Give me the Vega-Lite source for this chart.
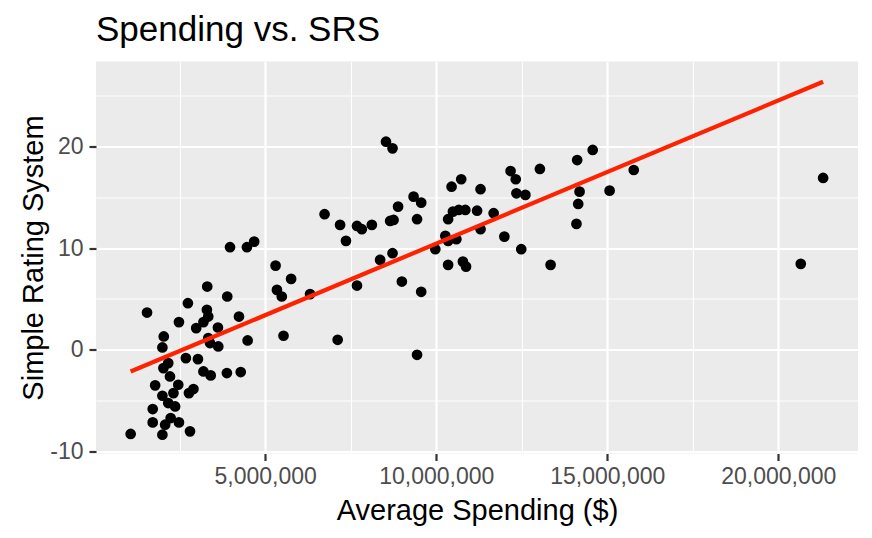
{
  "$schema": "https://vega.github.io/schema/vega-lite/v6.json",
  "width": 762,
  "height": 392,
  "autosize": {"type": "none"},
  "padding": {"left": 96, "top": 61.5, "right": 14, "bottom": 84.5},
  "background": "white",
  "title": {
    "text": "Spending vs. SRS",
    "anchor": "start",
    "frame": "group",
    "font": "Liberation Sans",
    "fontSize": 35,
    "fontWeight": "normal",
    "color": "#000000",
    "offset": 14
  },
  "config": {
    "view": {"fill": "#EBEBEB", "stroke": null},
    "axis": {
      "domain": false,
      "gridColor": "#FFFFFF",
      "tickColor": "#333333",
      "tickWidth": 2.2,
      "tickSize": 7,
      "labelFont": "Liberation Sans",
      "labelFontSize": 23,
      "labelColor": "#4D4D4D",
      "titleFont": "Liberation Sans",
      "titleFontSize": 29,
      "titleFontWeight": "normal",
      "titleColor": "#000000"
    }
  },
  "data": {
    "values": [
      {"spending": 1066000, "srs": -8.28},
      {"spending": 1545000, "srs": 3.66},
      {"spending": 1711000, "srs": -5.83},
      {"spending": 1711000, "srs": -7.14},
      {"spending": 1782000, "srs": -3.5},
      {"spending": 1994000, "srs": -8.35},
      {"spending": 1994000, "srs": -4.52},
      {"spending": 1994000, "srs": 0.23},
      {"spending": 2034000, "srs": 1.31},
      {"spending": 2024000, "srs": -1.8},
      {"spending": 2165000, "srs": -1.31},
      {"spending": 2216000, "srs": -2.62},
      {"spending": 2074000, "srs": -7.37},
      {"spending": 2236000, "srs": -6.71},
      {"spending": 2165000, "srs": -5.24},
      {"spending": 2367000, "srs": -5.57},
      {"spending": 2317000, "srs": -4.26},
      {"spending": 2458000, "srs": -3.44},
      {"spending": 2478000, "srs": -7.14},
      {"spending": 2478000, "srs": 2.72},
      {"spending": 2680000, "srs": -0.82},
      {"spending": 2740000, "srs": 4.58},
      {"spending": 2801000, "srs": -8.02},
      {"spending": 2771000, "srs": -4.26},
      {"spending": 2902000, "srs": -3.86},
      {"spending": 2982000, "srs": 2.13},
      {"spending": 3033000, "srs": -0.92},
      {"spending": 3194000, "srs": -2.13},
      {"spending": 3194000, "srs": 2.72},
      {"spending": 3295000, "srs": 3.93},
      {"spending": 3305000, "srs": 6.22},
      {"spending": 3335000, "srs": 3.27},
      {"spending": 3335000, "srs": 1.15},
      {"spending": 3406000, "srs": -2.52},
      {"spending": 3618000, "srs": 2.19},
      {"spending": 3628000, "srs": 0.33},
      {"spending": 3386000, "srs": 0.66},
      {"spending": 3880000, "srs": -2.29},
      {"spending": 3890000, "srs": 5.24},
      {"spending": 3971000, "srs": 10.09},
      {"spending": 4233000, "srs": 3.27},
      {"spending": 4284000, "srs": -2.19},
      {"spending": 4486000, "srs": 0.92},
      {"spending": 4465000, "srs": 10.09},
      {"spending": 4677000, "srs": 10.64},
      {"spending": 5303000, "srs": 8.28},
      {"spending": 5343000, "srs": 5.89},
      {"spending": 5484000, "srs": 5.24},
      {"spending": 5535000, "srs": 1.38},
      {"spending": 5757000, "srs": 6.97},
      {"spending": 6311000, "srs": 5.47},
      {"spending": 6735000, "srs": 13.33},
      {"spending": 7118000, "srs": 0.98},
      {"spending": 7189000, "srs": 12.28},
      {"spending": 7361000, "srs": 10.71},
      {"spending": 7683000, "srs": 12.18},
      {"spending": 7825000, "srs": 11.86},
      {"spending": 7683000, "srs": 6.32},
      {"spending": 8117000, "srs": 12.28},
      {"spending": 8359000, "srs": 8.84},
      {"spending": 8531000, "srs": 20.46},
      {"spending": 8722000, "srs": 19.81},
      {"spending": 8652000, "srs": 12.67},
      {"spending": 8753000, "srs": 12.77},
      {"spending": 8722000, "srs": 9.5},
      {"spending": 8884000, "srs": 14.08},
      {"spending": 8995000, "srs": 6.71},
      {"spending": 9338000, "srs": 15.06},
      {"spending": 9439000, "srs": -0.49},
      {"spending": 9439000, "srs": 12.84},
      {"spending": 9560000, "srs": 5.7},
      {"spending": 9560000, "srs": 14.47},
      {"spending": 9973000, "srs": 9.89},
      {"spending": 10266000, "srs": 11.2},
      {"spending": 10347000, "srs": 10.71},
      {"spending": 10589000, "srs": 10.87},
      {"spending": 10347000, "srs": 8.35},
      {"spending": 10780000, "srs": 8.67},
      {"spending": 10871000, "srs": 8.18},
      {"spending": 10347000, "srs": 12.84},
      {"spending": 10488000, "srs": 13.59},
      {"spending": 10659000, "srs": 13.75},
      {"spending": 10851000, "srs": 13.75},
      {"spending": 11194000, "srs": 13.68},
      {"spending": 11295000, "srs": 11.86},
      {"spending": 11678000, "srs": 13.43},
      {"spending": 11991000, "srs": 11.13},
      {"spending": 12485000, "srs": 9.89},
      {"spending": 10448000, "srs": 16.04},
      {"spending": 10730000, "srs": 16.77},
      {"spending": 11295000, "srs": 15.79},
      {"spending": 12173000, "srs": 17.58},
      {"spending": 12324000, "srs": 16.77},
      {"spending": 12344000, "srs": 15.39},
      {"spending": 12606000, "srs": 15.23},
      {"spending": 13030000, "srs": 17.78},
      {"spending": 13343000, "srs": 8.35},
      {"spending": 14120000, "srs": 18.66},
      {"spending": 14574000, "srs": 19.65},
      {"spending": 14190000, "srs": 15.55},
      {"spending": 14150000, "srs": 14.34},
      {"spending": 14099000, "srs": 12.38},
      {"spending": 15068000, "srs": 15.65},
      {"spending": 15774000, "srs": 17.68},
      {"spending": 20657000, "srs": 8.45},
      {"spending": 21310000, "srs": 16.9}
    ]
  },
  "encoding": {
    "x": {
      "field": "spending",
      "type": "quantitative",
      "title": "Average Spending ($)",
      "scale": {"domain": [53000, 22330000], "nice": false, "zero": false},
      "axis": {
        "values": [2500000, 5000000, 7500000, 10000000, 12500000, 15000000, 17500000, 20000000],
        "labelExpr": "datum.value % 5000000 === 0 ? format(datum.value, ',') : ''",
        "gridWidth": {"condition": {"test": "datum.value % 5000000 !== 0", "value": 1.1}, "value": 2.2},
        "tickOpacity": {"condition": {"test": "datum.value % 5000000 !== 0", "value": 0}, "value": 1},
        "labelPadding": 5,
        "titlePadding": 8,
        "labelFlush": false,
        "labelOverlap": false
      }
    },
    "y": {
      "field": "srs",
      "type": "quantitative",
      "title": "Simple Rating System",
      "scale": {"domain": [-10.2, 28.35], "nice": false, "zero": false},
      "axis": {
        "values": [-10, -5, 0, 5, 10, 15, 20, 25],
        "labelExpr": "datum.value % 10 === 0 ? '' + datum.value : ''",
        "gridWidth": {"condition": {"test": "datum.value % 10 !== 0", "value": 1.1}, "value": 2.2},
        "tickOpacity": {"condition": {"test": "datum.value % 10 !== 0", "value": 0}, "value": 1},
        "labelPadding": 6,
        "titlePadding": 7,
        "titleBaseline": "alphabetic",
        "labelFlush": false,
        "labelOverlap": false
      }
    }
  },
  "layer": [
    {
      "mark": {"type": "circle", "size": 115, "color": "#000000", "opacity": 1}
    },
    {
      "transform": [{"regression": "srs", "on": "spending", "method": "linear"}],
      "mark": {"type": "line", "color": "#FF2200", "strokeWidth": 4.2}
    }
  ]
}
